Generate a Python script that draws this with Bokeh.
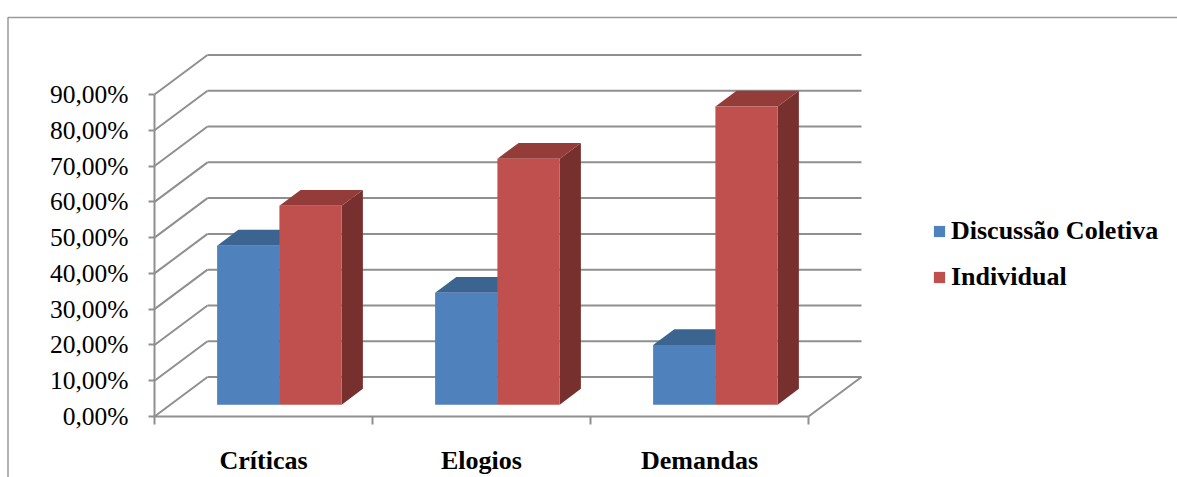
from bokeh.plotting import figure
from bokeh.models import Range1d, LinearAxis, FixedTicker, Legend, LegendItem, ColumnDataSource
from bokeh.embed import file_html
from bokeh.resources import INLINE

# ---- data ----
categorias = ["Críticas", "Elogios", "Demandas"]
series_nomes = ["Discussão Coletiva", "Individual"]
discussao_coletiva = [44.44, 31.25, 16.67]
individual = [55.56, 68.75, 83.33]
y_ticks = [0, 10, 20, 30, 40, 50, 60, 70, 80, 90]
y_tick_labels = ["0,00%", "10,00%", "20,00%", "30,00%", "40,00%",
                 "50,00%", "60,00%", "70,00%", "80,00%", "90,00%"]

# ---- layout (pixels) ----
W, H = 1177, 477
X0_PX, CAT_PX = 154, 218          # front-left corner of the floor, width of one category
Y0_PX, PCT_PX = 416, 322 / 90     # 0 % line, pixels per percent
DEPTH_PX = (53, 39.5)              # perspective offset of the back wall

DX = DEPTH_PX[0] / CAT_PX          # depth offset in data units
DY = DEPTH_PX[1] / PCT_PX

def px_x(px):
    return (px - X0_PX) / CAT_PX

def px_y(py):
    return (Y0_PX - py) / PCT_PX

GRID = "#8f8f8f"
FONT = "'Liberation Serif', 'Times New Roman', serif"
FRONT = ["#4F81BD", "#C0504D"]
TOP = ["#3C6491", "#943C3A"]
SIDE = ["#2F4F75", "#77302E"]

p = figure(width=W, height=H,
           x_range=Range1d(px_x(0), px_x(W)), y_range=Range1d(px_y(H), px_y(0)),
           x_axis_type=None, y_axis_type=None,
           output_backend="svg", toolbar_location=None)
p.min_border = 0
p.min_border_left = p.min_border_right = p.min_border_top = p.min_border_bottom = 0
p.outline_line_color = None
p.background_fill_color = "white"
p.border_fill_color = "white"

# chart-area border
p.line([px_x(7.5), px_x(7.5), px_x(W)], [px_y(H), px_y(17), px_y(17)],
       line_color="#9a9a9a", line_width=1.5)

# ---- 3D walls ----
n_cat = len(categorias)
ymax = y_ticks[-1]
xs, ys = [], []
for t in y_ticks:
    xs.append([0, DX]); ys.append([t, t + DY])                  # side wall
    xs.append([DX, n_cat + DX]); ys.append([t + DY, t + DY])    # back wall
xs.append([n_cat, n_cat + DX]); ys.append([0, DY])              # floor edge
p.multi_line(xs, ys, line_color=GRID, line_width=2)

# ---- 3D columns ----
n_ser = len(series_nomes)
gap_width = 1.5
bar_w = 1 / (n_ser + gap_width)
gap = gap_width * bar_w / 2
f0, f1 = 0.3, 0.7                  # front / back depth of the columns

front_renderers = []
for s, valores in enumerate([discussao_coletiva, individual]):
    lefts = [c + gap + s * bar_w + f0 * DX for c in range(n_cat)]
    rights = [l + bar_w for l in lefts]
    bottoms = [f0 * DY] * n_cat
    tops = [v + f0 * DY for v in valores]
    ddx, ddy = (f1 - f0) * DX, (f1 - f0) * DY
    top_xs = [[l, r, r + ddx, l + ddx] for l, r in zip(lefts, rights)]
    top_ys = [[t, t, t + ddy, t + ddy] for t in tops]
    side_xs = [[r, r + ddx, r + ddx, r] for r in rights]
    side_ys = [[b, b + ddy, t + ddy, t] for b, t in zip(bottoms, tops)]
    p.patches(side_xs, side_ys, fill_color=SIDE[s], line_color=None)
    p.patches(top_xs, top_ys, fill_color=TOP[s], line_color=None)
    src = ColumnDataSource(dict(left=lefts, right=rights, bottom=bottoms, top=tops))
    r = p.quad(left="left", right="right", bottom="bottom", top="top", source=src,
               fill_color=FRONT[s], line_color=None)
    front_renderers.append(r)

# ---- axes ----
yaxis = LinearAxis(fixed_location=0, bounds=(0, ymax),
                   ticker=FixedTicker(ticks=y_ticks),
                   major_label_overrides={t: lab for t, lab in zip(y_ticks, y_tick_labels)})
yaxis.axis_line_color = GRID
yaxis.axis_line_width = 2
yaxis.major_tick_line_color = GRID
yaxis.major_tick_line_width = 2
yaxis.major_tick_out = 6
yaxis.major_tick_in = 0
yaxis.minor_tick_line_color = None
yaxis.major_label_text_font = FONT
yaxis.major_label_text_font_size = "25.5px"
yaxis.major_label_text_color = "black"
yaxis.major_label_standoff = 20
p.add_layout(yaxis, "left")

bounds_ticks = list(range(n_cat + 1))
xaxis = LinearAxis(fixed_location=0, bounds=(0, n_cat),
                   ticker=FixedTicker(ticks=bounds_ticks),
                   major_label_overrides={t: "" for t in bounds_ticks})
xaxis.axis_line_color = GRID
xaxis.axis_line_width = 2
xaxis.major_tick_line_color = GRID
xaxis.major_tick_line_width = 2
xaxis.major_tick_out = 8
xaxis.major_tick_in = 0
xaxis.minor_tick_line_color = None
p.add_layout(xaxis, "below")

centers = [c + 0.5 for c in range(n_cat)]
cat_axis = LinearAxis(fixed_location=0, ticker=FixedTicker(ticks=centers),
                      major_label_overrides={c: lab for c, lab in zip(centers, categorias)})
cat_axis.axis_line_color = None
cat_axis.major_tick_line_color = None
cat_axis.minor_tick_line_color = None
cat_axis.major_label_text_font = FONT
cat_axis.major_label_text_font_style = "bold"
cat_axis.major_label_text_font_size = "26px"
cat_axis.major_label_text_color = "black"
cat_axis.major_label_standoff = 23
p.add_layout(cat_axis, "below")

# ---- legend ----
legend = Legend(items=[LegendItem(label=n, renderers=[r]) for n, r in zip(series_nomes, front_renderers)],
                location=(932, 185), orientation="vertical",
                glyph_width=14, glyph_height=14, label_standoff=5, spacing=16,
                padding=0, margin=0, border_line_color=None, background_fill_alpha=0,
                label_text_font=FONT, label_text_font_style="bold",
                label_text_font_size="26px", label_text_color="black")
p.add_layout(legend)

open("out.html", "w").write(file_html(p, INLINE))
